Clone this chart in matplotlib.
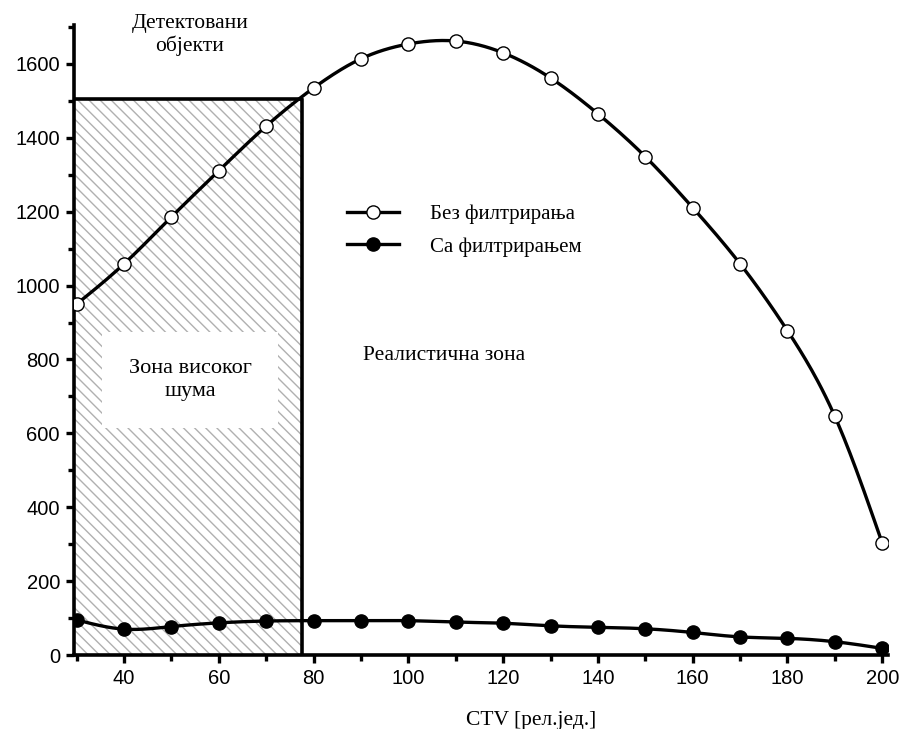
import numpy as np
import matplotlib
matplotlib.use("Agg")
import matplotlib.pyplot as plt
from matplotlib.patches import Rectangle
from matplotlib.ticker import MultipleLocator

# CTV threshold values and detected object counts
ctv = [30, 40, 50, 60, 70, 80, 90, 100, 110, 120, 130, 140, 150, 160, 170, 180, 190, 200]
without_filter = [950, 1059, 1186, 1311, 1432, 1535, 1614, 1654, 1662, 1630, 1562,
                  1465, 1349, 1211, 1059, 878, 646, 303]
with_filter = [95, 70, 77, 87, 92, 93, 93, 93, 89, 86, 79, 75, 71, 61, 49, 45, 36, 18]

noise_zone_end = 77.5
noise_zone_top = 1505

label_without = "Без филтрирања"
label_with = "Са филтрирањем"


def smooth(x, y, n=400):
    """Natural cubic spline through the given points, for drawing."""
    x = np.asarray(x, float)
    y = np.asarray(y, float)
    m = len(x)
    h = np.diff(x)
    A = np.zeros((m, m))
    b = np.zeros(m)
    A[0, 0] = A[-1, -1] = 1
    for i in range(1, m - 1):
        A[i, i - 1] = h[i - 1]
        A[i, i] = 2 * (h[i - 1] + h[i])
        A[i, i + 1] = h[i]
        b[i] = 3 * ((y[i + 1] - y[i]) / h[i] - (y[i] - y[i - 1]) / h[i - 1])
    c = np.linalg.solve(A, b)
    xs = np.linspace(x[0], x[-1], n)
    idx = np.clip(np.searchsorted(x, xs) - 1, 0, m - 2)
    dx = xs - x[idx]
    bb = (y[idx + 1] - y[idx]) / h[idx] - h[idx] * (2 * c[idx] + c[idx + 1]) / 3
    dd = (c[idx + 1] - c[idx]) / (3 * h[idx])
    ys = y[idx] + bb * dx + c[idx] * dx ** 2 + dd * dx ** 3
    return xs, ys


serif = ["Liberation Serif", "DejaVu Serif"]
sans = ["Liberation Sans", "DejaVu Sans"]

fig = plt.figure(figsize=(9.01, 7.29), dpi=100)
ax = fig.add_axes([0.082, 0.1015, 0.904, 0.864])

# noise zone: hatched rectangle
plt.rcParams["hatch.linewidth"] = 1.0
ax.add_patch(Rectangle((29.4, 0), noise_zone_end - 29.4, noise_zone_top,
                       facecolor="white", edgecolor="#b0b0b0", hatch="\\\\\\",
                       linewidth=0, zorder=1))
ax.plot([29.4, noise_zone_end, noise_zone_end], [noise_zone_top, noise_zone_top, 0],
        color="black", lw=2.6, zorder=2, solid_capstyle="butt")

for ys, face, lab in [(without_filter, "white", label_without),
                      (with_filter, "black", label_with)]:
    sx, sy = smooth(ctv, ys)
    ax.plot(sx, sy, color="black", lw=2.4, zorder=3)
    ax.plot(ctv, ys, ls="none", marker="o", ms=9.5, mfc=face, mec="black",
            mew=1.0, zorder=4)
    ax.plot([], [], color="black", lw=2.4, marker="o", ms=9.5, mfc=face,
            mec="black", mew=1.0, label=lab)

ax.set_xlim(29.4, 201.3)
ax.set_ylim(0, 1705)

ax.xaxis.set_major_locator(MultipleLocator(20))
ax.xaxis.set_minor_locator(MultipleLocator(10))
ax.yaxis.set_major_locator(MultipleLocator(200))
ax.yaxis.set_minor_locator(MultipleLocator(100))
ax.tick_params(which="major", direction="out", length=6, width=2.4,
               labelsize=14.5, pad=4)
ax.tick_params(which="minor", direction="out", length=4, width=2.4)
for lbl in ax.get_xticklabels() + ax.get_yticklabels():
    lbl.set_family(sans)

for s in ("top", "right"):
    ax.spines[s].set_visible(False)
for s in ("left", "bottom"):
    ax.spines[s].set_linewidth(2.6)

leg = ax.legend(loc="upper left", bbox_to_anchor=(0.312, 0.745), frameon=False,
                prop={"family": serif, "size": 15}, handlelength=2.5,
                labelspacing=0.62, handletextpad=1.5)

ax.text(0.5 * (29.4 + noise_zone_end) + 0.5, 745, "Зона високог\nшума", ha="center",
        va="center", fontsize=16, family=serif, linespacing=1.3, zorder=5,
        bbox=dict(boxstyle="square,pad=1.2", facecolor="white", edgecolor="none"))
ax.text(107.5, 811, "Реалистична зона", ha="center", va="center",
        fontsize=15.5, family=serif)

fig.text(190 / 901, 1 - 35 / 729, "Детектовани\nобјекти", ha="center",
         va="center", fontsize=15.5, family=serif, linespacing=1.2)
fig.text(531 / 901, 1 - 720 / 729, "CTV [рел.јед.]", ha="center", va="center",
         fontsize=15.5, family=serif)

fig.savefig("out.png", dpi=100)
